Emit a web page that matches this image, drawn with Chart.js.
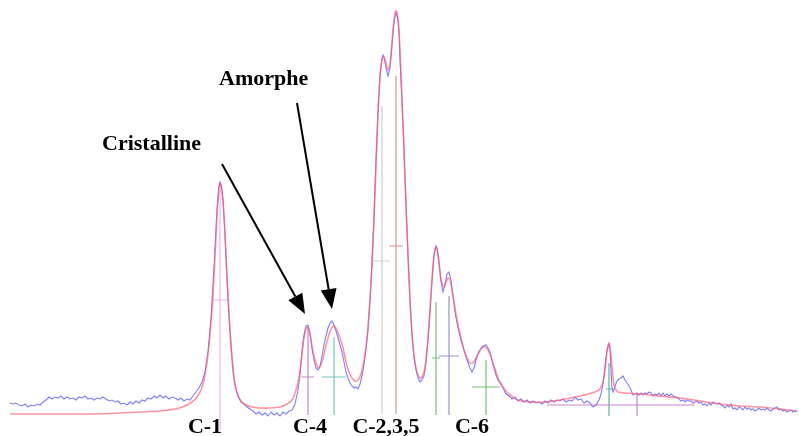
<!DOCTYPE html>
<html>
<head>
<meta charset="utf-8">
<script src="https://cdn.jsdelivr.net/npm/chart.js@4"></script>
<style>
  body { margin: 0; background: #fff; }
  canvas { display: block; }
</style>
</head>
<body>
<canvas id="spectre" width="799" height="436"></canvas>
<script>
// spectre mesuré (bleu) : [position, hauteur] ; l'axe vertical est inversé
const measured = [
  [10,403],[13,404],[16,403],[19,405],[22,406],[25,404],[28,407],[31,405],[34,406],[37,404],[40,405],[43,402],
  [46,400],[49,397],[52,399],[55,397],[58,398],[61,396],[64,399],[67,397],[70,399],[73,398],[76,400],[79,397],
  [82,398],[85,396],[88,399],[91,398],[94,400],[97,398],[100,399],[103,397],[106,399],[109,401],[112,400],[115,402],
  [118,401],[121,404],[124,403],[127,405],[130,402],[133,404],[136,401],[139,403],[142,400],[145,401],[148,398],
  [151,399],[154,396],[157,398],[160,395],[163,398],[166,396],[169,399],[172,397],[175,398],[178,400],[181,398],
  [184,401],[187,399],[190,400],[193,396],[196,392],[199,388],[202,382],[205,372],[208,352],[211,318],[214,268],
  [217,210],[219,186],[220,182],[221,185],[223,200],[225,235],[227,280],[229,318],[231,345],[233,370],[235,385],
  [238,396],[241,402],[244,404],[247,407],[250,409],[253,411],[256,414],[259,412],[262,415],[265,413],[268,416],
  [271,412],[274,415],[277,413],[280,416],[283,412],[286,414],[289,411],[292,410],[295,404],[298,390],[300,375],
  [302,352],[304,335],[306,326],[308,325],[310,333],[312,348],[314,360],[316,368],[318,370],[320,366],[322,356],
  [324,345],[326,336],[328,328],[330,323],[332,321],[334,325],[336,331],[338,338],[340,345],[342,352],[344,362],
  [346,372],[348,378],[350,383],[352,386],[354,388],[356,387],[358,389],[360,384],[362,376],[364,365],[366,350],
  [368,330],[370,300],[372,262],[374,215],[376,160],[378,110],[380,75],[382,58],[383,55],[384,57],[386,68],
  [388,76],[390,68],[392,45],[394,22],[396,12],[398,20],[399,32],[400,60],[402,100],[404,150],[406,205],[408,255],
  [410,300],[412,335],[414,358],[416,370],[418,378],[420,382],[422,380],[424,376],[426,362],[428,340],[430,310],
  [432,280],[434,255],[436,246],[437,248],[439,262],[441,282],[443,292],[445,285],[447,274],[449,272],[451,280],
  [453,296],[455,312],[458,328],[461,340],[464,350],[467,360],[470,368],[472,372],[474,368],[476,360],[478,354],
  [480,350],[483,346],[486,345],[488,348],[490,352],[492,360],[494,368],[496,375],[498,380],[500,383],[503,388],
  [506,394],[509,396],[512,399],[515,397],[518,401],[521,399],[524,402],[527,400],[530,403],[533,401],[536,403],
  [539,402],[542,404],[545,401],[548,403],[551,400],[554,402],[557,400],[560,401],[563,399],[566,402],[569,400],
  [572,401],[575,397],[578,400],[581,399],[584,403],[587,401],[590,403],[593,407],[596,405],[599,400],[601,394],
  [603,384],[605,366],[607,350],[608,346],[609,344],[610,350],[611,370],[612,388],[613,392],[615,386],[617,381],
  [619,379],[621,378],[623,376],[625,380],[627,383],[629,386],[631,390],[633,395],[635,394],[637,393],[639,395],
  [641,393],[643,395],[645,393],[647,394],[649,392],[651,393],[653,396],[655,394],[657,395],[659,393],[661,396],
  [663,393],[665,396],[667,394],[669,396],[671,394],[673,396],[675,397],[677,397],[679,399],[681,401],[683,400],
  [685,402],[687,400],[689,401],[691,401],[693,403],[695,402],[697,401],[699,403],[701,402],[703,405],[705,404],
  [707,406],[709,403],[711,405],[713,402],[715,403],[717,404],[719,403],[721,405],[723,406],[725,408],[727,405],
  [729,407],[731,404],[733,409],[735,408],[737,410],[739,407],[741,408],[743,410],[745,407],[747,409],[749,408],
  [751,410],[753,409],[755,411],[757,410],[759,408],[761,410],[763,409],[765,410],[767,408],[769,410],[771,411],
  [773,409],[775,408],[777,407],[779,410],[781,409],[783,411],[785,410],[787,412],[789,411],[791,410],[793,412],
  [795,411],[797,412]
];

// spectre ajusté (rouge)
const fitted = [
  [10,414],[40,414],[80,414],[110,413.5],[140,412],[160,411],[175,409],[185,406],[192,402],[197,397],[201,390],
  [204,380],[207,362],[210,335],[213,295],[216,235],[218,198],[220,183],[222,190],[224,215],[226,255],[228,295],
  [230,330],[232,358],[234,378],[237,393],[241,401],[246,405],[252,407],[260,408],[270,408],[280,407],[287,404],
  [292,400],[296,390],[299,377],[301,362],[303,345],[305,332],[307,327],[309,330],[311,340],[313,352],[316,363],
  [319,368],[322,362],[325,350],[328,338],[331,329],[334,326],[337,330],[340,338],[343,348],[346,362],[349,372],
  [352,378],[355,381],[358,380],[361,374],[364,360],[367,338],[370,300],[372,265],[374,220],[376,165],[378,115],
  [380,78],[382,60],[384,57],[386,63],[388,70],[390,64],[392,42],[394,20],[396,11],[398,18],[400,50],[402,100],
  [404,150],[406,205],[408,255],[410,300],[412,333],[414,355],[416,368],[418,375],[420,378],[422,377],[424,372],
  [426,360],[428,338],[430,310],[432,280],[434,255],[436,247],[438,255],[440,272],[442,284],[444,287],[446,282],
  [448,278],[450,280],[452,290],[455,308],[458,325],[461,338],[464,350],[467,358],[470,363],[473,363],[476,358],
  [479,352],[482,348],[485,347],[488,350],[491,357],[494,366],[497,375],[500,382],[505,390],[510,395],[518,400],
  [530,402],[545,402],[560,400],[580,396],[595,392],[600,389],[603,382],[605,370],[607,352],[609,343],[611,355],
  [613,378],[615,388],[618,392],[625,393],[640,394],[660,396],[680,398],[700,401],[720,404],[740,406],[760,407],
  [780,409],[797,411]
];

// composantes de la déconvolution : position, sommet, pied, mi-hauteur, largeur (gauche / droite)
const compPos    = [220, 308, 334, 382, 396, 436, 449, 486, 609, 637];
const compTop    = [183, 327, 337, 106,  76, 302, 296, 360, 363, 393];
const compFoot   = [430, 415, 415, 414, 414, 415, 415, 415, 416, 416];
const compHalf   = [300, 377, 377, 261, 246, 358, 356, 387, 389, 405];
const compLeft   = [213, 301, 322, 373, 389, 432, 439, 472, 606, 547];
const compRight  = [228, 314, 346, 390, 403, 440, 459, 500, 613, 695];
const compColors = ['#f2b4f0', '#c488cc', '#74c6c0', '#cfcfcf', '#d89090',
                    '#78c078', '#9494d4', '#78c078', '#5cb4a0', '#c488cc'];

// étiquettes
const peakLabels = ['C-1', 'C-4', 'C-2,3,5', 'C-6'];
const peakLabelX = [205, 310, 386, 472];
const notes = [
  { text: 'Cristalline', x: 102, y: 150, from: [222, 164], to: [305, 314] },
  { text: 'Amorphe',     x: 219, y: 85,  from: [297, 103], to: [332, 309] }
];

const toXY = arr => arr.map(p => ({ x: p[0], y: p[1] }));

const datasets = [];
datasets.push({
  data: toXY(fitted),
  borderColor: 'rgba(255, 90, 110, 0.65)',
  borderWidth: 1.6,
  pointRadius: 0,
  tension: 0.3,
  order: 0
});
datasets.push({
  data: toXY(measured),
  borderColor: 'rgba(95, 95, 255, 0.8)',
  borderWidth: 1.1,
  pointRadius: 0,
  tension: 0,
  order: 1
});
compPos.forEach((x, i) => {
  datasets.push({
    data: [
      { x: x, y: compFoot[i] }, { x: x, y: compTop[i] },
      { x: x, y: null },
      { x: compLeft[i], y: compHalf[i] }, { x: compRight[i], y: compHalf[i] }
    ],
    borderColor: compColors[i],
    borderWidth: 1.2,
    pointRadius: 0,
    spanGaps: false,
    order: 2
  });
});

const annotations = {
  id: 'annotations',
  beforeDraw(chart) {
    const ctx = chart.ctx;
    ctx.save();
    ctx.fillStyle = '#fff';
    ctx.fillRect(0, 0, chart.width, chart.height);
    ctx.restore();
  },
  afterDatasetsDraw(chart) {
    const ctx = chart.ctx;
    const xs = chart.scales.x, ys = chart.scales.y;
    ctx.save();
    ctx.fillStyle = '#000';
    ctx.font = 'bold 22px "Liberation Serif", serif';
    ctx.textBaseline = 'alphabetic';
    ctx.textAlign = 'center';
    peakLabels.forEach((t, i) => {
      ctx.fillText(t, xs.getPixelForValue(peakLabelX[i]), ys.getPixelForValue(433));
    });
    ctx.textAlign = 'left';
    notes.forEach(n => {
      ctx.fillText(n.text, xs.getPixelForValue(n.x), ys.getPixelForValue(n.y));
      const x0 = xs.getPixelForValue(n.from[0]), y0 = ys.getPixelForValue(n.from[1]);
      const x1 = xs.getPixelForValue(n.to[0]), y1 = ys.getPixelForValue(n.to[1]);
      const a = Math.atan2(y1 - y0, x1 - x0);
      const len = 20, half = 8;
      const bx = x1 - len * Math.cos(a), by = y1 - len * Math.sin(a);
      ctx.strokeStyle = '#000';
      ctx.lineWidth = 2;
      ctx.beginPath();
      ctx.moveTo(x0, y0);
      ctx.lineTo(bx, by);
      ctx.stroke();
      ctx.beginPath();
      ctx.moveTo(x1, y1);
      ctx.lineTo(bx + half * Math.sin(a), by - half * Math.cos(a));
      ctx.lineTo(bx - half * Math.sin(a), by + half * Math.cos(a));
      ctx.closePath();
      ctx.fill();
    });
    ctx.restore();
  }
};

new Chart(document.getElementById('spectre'), {
  type: 'line',
  data: { datasets: datasets },
  options: {
    responsive: false,
    animation: false,
    devicePixelRatio: 1,
    layout: { padding: 0 },
    scales: {
      x: { type: 'linear', min: 0, max: 799, display: false },
      y: { type: 'linear', min: 0, max: 436, reverse: true, display: false }
    },
    plugins: {
      legend: { display: false },
      tooltip: { enabled: false }
    }
  },
  plugins: [annotations]
});
</script>
</body>
</html>
